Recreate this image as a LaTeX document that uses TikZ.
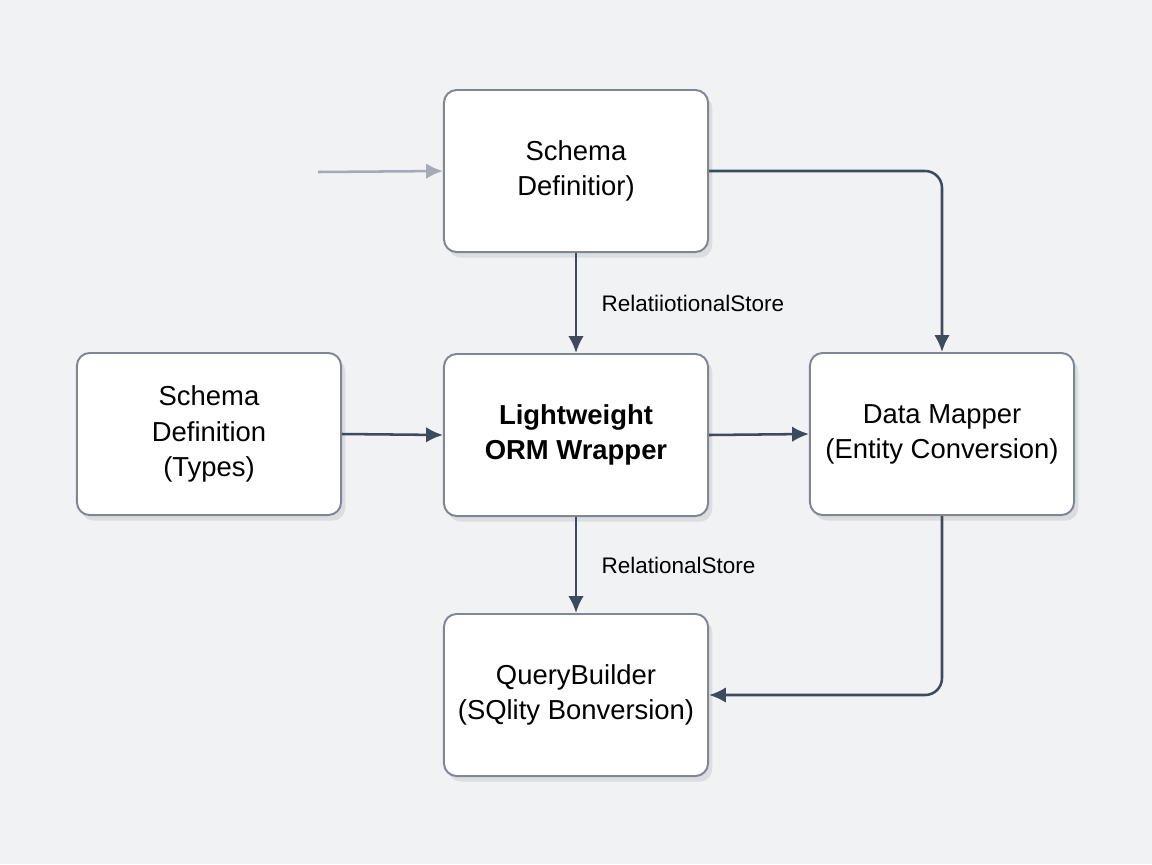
\documentclass[tikz,border=0pt]{standalone}
\usepackage{fontspec}
\setmainfont{Liberation Sans}
\usetikzlibrary{positioning,shadows,arrows.meta}
\definecolor{bgcol}{HTML}{F1F2F4}
\definecolor{edgecol}{HTML}{7F8696}
\definecolor{arrcol}{HTML}{3E4A5E}
\tikzset{
  box/.style={draw=edgecol, line width=1.4pt, rounded corners=9pt, fill=white,
    minimum width=6.6cm, minimum height=4.05cm, align=center, font=\fontsize{19.5}{25}\selectfont,
    drop shadow={shadow xshift=3pt, shadow yshift=-4pt, opacity=0.18}},
  flow/.style={draw=arrcol, line width=1.8pt, -{Latex[length=12pt,width=11pt]}, rounded corners=12pt},
  lbl/.style={font=\fontsize{16}{18}\selectfont, anchor=west}
}
\begin{document}
\begin{tikzpicture}[x=0.025cm,y=-0.025cm]
  % background
  \fill[bgcol] (0,0) rectangle (1152,864);
  \useasboundingbox (0,0) rectangle (1152,864);

  % boxes
  \node[box] (schema) at (576,171) {Schema\\Definitior)};
  \node[box] (types) at (209,434) {Schema\\Definition\\(Types)};
  \node[box] (orm) at (576,435) {\textbf{Lightweight}\\\textbf{ORM Wrapper}};
  \node[box] (mapper) at (942,434) {Data Mapper\\(Entity Conversion)};
  \node[box] (query) at (576,695) {QueryBuilder\\(SQlity Bonversion)};

  % incoming arrow
  \coordinate (in) at (318,172);
  \draw[flow, draw=edgecol!70] (in) -- (schema.west);

  % connectors
  \draw[flow] (schema.east) -| (mapper.north);
  \draw[flow] (schema.south) -- node[lbl, right=14pt] {RelatiiotionalStore} (orm.north);
  \draw[flow] (types.east) -- (orm.west);
  \draw[flow] (orm.east) -- (mapper.west);
  \draw[flow] (orm.south) -- node[lbl, right=14pt] {RelationalStore} (query.north);
  \draw[flow] (mapper.south) |- (query.east);
\end{tikzpicture}
\end{document}
